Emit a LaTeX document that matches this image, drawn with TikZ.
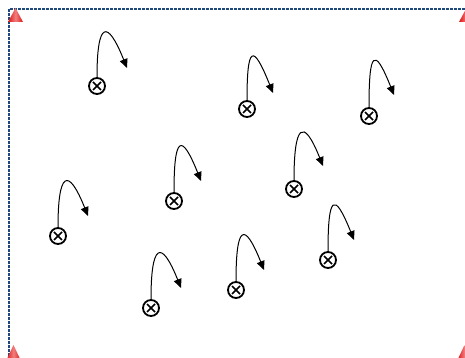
\documentclass[tikz,border=0pt]{standalone}
\usetikzlibrary{arrows.meta,calc}
\definecolor{borderblue}{RGB}{31,73,125}
\definecolor{conered}{RGB}{225,20,20}
\tikzset{
  player/.style={circle,draw=black,line width=1.8pt,minimum size=16pt,inner sep=0pt,
    path picture={\draw[line width=1.7pt] ($(path picture bounding box.north west)+(4pt,-4pt)$) -- ($(path picture bounding box.south east)+(-4pt,4pt)$);
                  \draw[line width=1.7pt] ($(path picture bounding box.north east)+(-4pt,-4pt)$) -- ($(path picture bounding box.south west)+(4pt,4pt)$);}},
  run/.style={line width=1pt,-{Triangle[length=9pt,width=8pt]}},
  cone/.style={left color=conered,right color=conered,middle color=white!45!conered},
  field/.style={draw=borderblue,line width=1.6pt,dash pattern=on 2.6pt off 1.4pt}
}
\begin{document}
\begin{tikzpicture}[x=1pt,y=1pt]
\useasboundingbox (0,0) rectangle (465,358);
\fill[white] (0,0) rectangle (465,358);
\clip (0,0) rectangle (465,358);
\draw[field] (9,-10) -- (9,349) -- (475,349);
% cones
\shade[cone] (8,336) -- (15.5,350) -- (23,336) -- cycle;
\shade[cone] (459,336) -- (466.5,350) -- (474,336) -- cycle;
\shade[cone] (6,-3) -- (13.5,13) -- (21,-3) -- cycle;
\shade[cone] (457,-3) -- (464.5,13) -- (472,-3) -- cycle;
% players
\foreach \n/\px/\py/\ex/\ey in {1/97/272/127/290, 2/247/249/273/265, 3/369/242/394/263,
  4/174/157/201/177, 5/294/169/323/192, 6/58/122/88/142, 7/328/98/354/118,
  8/151/50/181/70, 9/236/68/264/88}{
  \node[player] (p\n) at (\px,\py) {};
  \coordinate (e\n) at (\ex,\ey);
  \draw[run] (p\n.north) .. controls ($(p\n.north)+(0,55)$) and ($(e\n)+(-20,50)$) .. (e\n);
}
\end{tikzpicture}
\end{document}
